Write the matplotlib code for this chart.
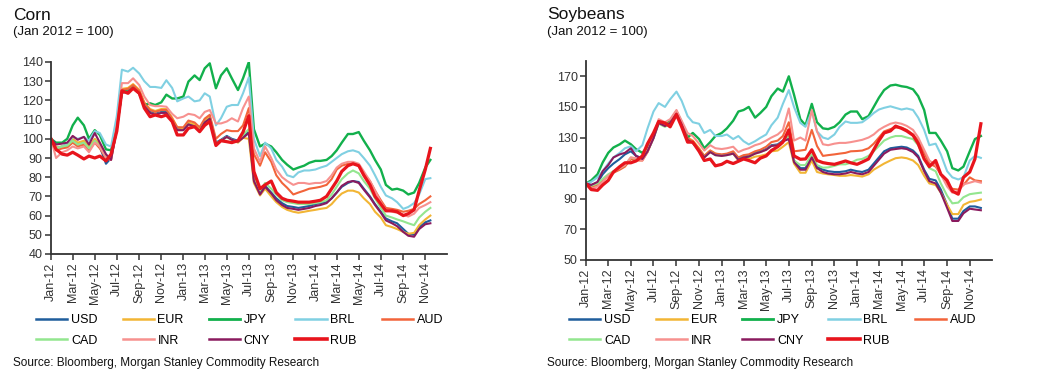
import matplotlib
matplotlib.use("Agg")
import matplotlib.pyplot as plt
import matplotlib.dates as mdates
import pandas as pd
from matplotlib.lines import Line2D

plt.rcParams["font.family"] = ["Liberation Sans", "DejaVu Sans"]

# semi-monthly points, Jan 2012 -> Dec 2014 (Jan 2012 = 100)
corn_dates = pd.date_range("2012-01-01", periods=70, freq="SMS")
soy_dates = pd.date_range("2012-01-01", periods=71, freq="SMS")

currencies = ["USD", "EUR", "JPY", "BRL", "AUD", "CAD", "INR", "CNY", "RUB"]

# ---- Corn ----
corn_usd = [100, 95, 96, 96.5, 99, 97, 98, 94.5, 98.5, 96, 87, 90, 105,
            124.5, 125, 127, 124, 117.5, 114, 113, 114, 114, 109.5, 105, 105, 108, 107, 104.5, 109, 111, 98, 99.5, 101.5, 100, 99, 101,
            104, 79, 72, 75.5, 72, 69, 66.5, 65, 64.5, 64, 64.5, 65, 66, 66.5, 67, 69, 72, 75, 77, 78, 77.5, 74, 70, 66, 62, 58.5, 57, 56, 53, 50.5, 50, 54, 56.5, 57.5]
corn_eur = [100, 95.5, 96, 97, 100, 98, 99, 96, 100, 97, 90, 90, 107,
            126, 126.5, 128.5, 125.5, 119, 115.5, 114.5, 115.5, 115.5, 111, 106, 105.5, 108.5, 107.5, 105, 109.5, 111.5, 97.5, 99, 101, 99.5, 98, 100.5,
            100, 77, 70.5, 74, 70, 67, 64.5, 63, 62, 61.5, 62, 62.5, 63, 63.5, 64, 66, 69, 71.5, 73, 73, 72, 69, 66, 62, 59, 55, 54, 53, 51.5, 50.5, 51, 55, 58, 60]
corn_jpy = [100, 98, 98, 100, 107, 111, 107, 100, 104.5, 102, 94.5, 94, 106,
            124.5, 125, 127, 124, 117.6, 118.5, 117.6, 119, 123, 121, 121, 122, 129.8, 133, 130.6, 136.7, 139.3, 126.3, 133, 136.7, 131.5, 125.4, 131.5,
            140, 105, 96, 97.5, 96, 93, 89, 86.5, 84, 85, 86, 87.5, 88.5, 88.5, 89, 91, 94, 98, 102.5, 102.5, 103.5, 99, 94, 89, 84, 76, 73.5, 74, 73, 71, 72, 77, 85, 89]
corn_brl = [100, 95, 96, 97.5, 101, 100, 101, 99, 104, 103, 97, 96, 112,
            136, 135, 137, 134, 130, 127, 127, 126.5, 130.5, 126.5, 119.5, 121, 122, 119.5, 120, 123.7, 122, 107, 110.7, 116.7, 117.6, 117.6, 123.7,
            132, 100, 91, 98, 95, 89, 85.5, 81, 80, 82.5, 83.5, 83.5, 84, 85, 86, 88, 90, 92, 93.5, 94, 93, 90, 86, 81, 75, 70.5, 69, 67, 63.5, 64.5, 66.5, 71, 79, 79.5]
corn_aud = [100, 94, 95, 95.5, 98, 96, 97, 94, 98, 95, 90, 89, 105,
            125.5, 126, 128, 125, 118.5, 115, 114, 115, 115, 110.5, 106, 106, 109.5, 108.5, 106, 110.5, 112.5, 100, 102.5, 104.5, 104, 104, 107,
            116, 92, 86, 93, 88, 81, 77, 74.5, 71, 72, 73, 74, 74.5, 75, 76, 79, 84, 86, 87, 87, 86, 82, 78, 73, 68, 64, 63.5, 63, 62, 62.5, 63.5, 66, 68, 70]
corn_cad = [100, 95, 96, 96.5, 99, 97, 98, 95, 99, 96, 90.5, 89.5, 105,
            124, 124.5, 126.5, 123.5, 117, 113.5, 112.5, 113.5, 113.5, 109, 104.5, 104.5, 107.5, 106.5, 104, 108.5, 110.5, 97.5, 99, 101, 99.5, 98.5, 102,
            105, 80, 73, 77, 74, 71, 68, 67, 66.5, 66, 66, 66, 66.5, 67, 68, 71, 75, 79, 82, 83.5, 82, 78, 74, 69, 64, 60, 59, 58, 57, 56, 55, 59, 62, 64]
corn_inr = [100, 90, 93, 94, 96, 95, 96, 93, 98, 96, 90, 89, 107,
            129, 129, 131.5, 128, 122, 117.6, 117, 117, 116.7, 113, 110.7, 111.5, 113, 112.4, 110.7, 114, 115, 108, 108, 109, 110.7, 109, 116,
            122, 95, 88, 96, 90, 84, 80, 78, 76, 77, 77, 76.5, 77, 77, 78, 81, 85, 87, 88, 88, 87, 83, 78, 73, 67, 63, 62, 61.5, 60.5, 59.5, 61, 64, 65.5, 67]
corn_cny = [100, 97, 97.5, 98, 101.5, 99.5, 101, 97, 103, 98, 92, 89, 105,
            124, 124.5, 126.5, 123.5, 117, 113.5, 112.5, 113.5, 113.5, 109, 104.5, 104.5, 107.5, 106.5, 104, 108.5, 110.5, 97.5, 99, 101, 99.5, 98.5, 100.5,
            103, 78, 71, 75, 71.5, 68, 65.5, 64, 63.5, 63, 63.5, 64, 65, 65.5, 66.5, 69, 72, 75.5, 77.5, 78, 77, 73.5, 69.5, 65.5, 61.5, 57.5, 56, 54.5, 51.5, 49.5, 49, 53, 55.5, 56]
corn_rub = [100, 94.5, 92, 91.5, 93, 91.5, 89.5, 91, 90, 91, 88.5, 92, 104,
            125, 123.7, 126.3, 123.7, 116, 111.5, 112.4, 111.5, 112.4, 109, 102, 102, 105.5, 106.3, 103.7, 107, 109, 96.5, 99, 98.5, 98, 99, 103.5,
            112, 83, 74, 76, 78, 72, 69, 68, 67.5, 67, 67, 67, 67.5, 68, 70, 74, 78, 83, 86, 87, 86, 81, 76, 70, 66, 62.5, 62.5, 62, 60, 61, 63, 73, 84, 95]

# ---- Soybeans ----
soy_usd = [100, 99, 100.5, 106, 110, 113, 116, 119, 121, 118, 116.5, 121,
           130, 140, 138, 140, 146, 139, 129, 127, 122, 117.5, 121, 119, 118.5, 119, 120, 116, 117.5, 118, 120, 121, 122.5, 125, 125.5, 128,
           130, 115, 110, 110, 118, 111, 109, 108, 107.5, 107.5, 108, 109, 108, 107.5, 109, 113, 117, 121, 123, 123.5, 124, 123.5, 121.5, 118, 109, 103, 102, 96, 86, 77, 77, 82, 85, 85, 84]
soy_eur = [100, 98, 99.5, 102, 105, 107.5, 109.5, 111.5, 116, 115.5, 115.5, 121,
           131, 141, 139, 141, 147, 140, 130, 128, 123, 118, 121.5, 119.5, 118.5, 119, 119.5, 115, 116, 116, 117.5, 118, 119, 121, 121.5, 124,
           127, 113, 107, 107, 115, 107.5, 106.5, 106, 105.5, 105, 105, 105.5, 105, 104.5, 106, 109, 111, 113, 115, 116.5, 117, 116.5, 115, 112, 105, 100, 99, 94, 86, 80, 80, 86, 88, 88.5, 89.5]
soy_jpy = [100, 102, 106, 113.7, 120, 123.5, 125.6, 128, 125.6, 122.4, 120, 124,
           132, 140, 138, 141, 147, 140, 130, 133, 129, 123, 127, 131, 133, 136, 141, 147, 148, 150, 143, 146, 150, 157, 162, 160,
           170, 158, 142, 138, 152, 140, 136, 135.5, 137, 140, 145, 147, 147, 142, 144, 150, 156, 161, 164, 164.5, 163.5, 163, 161.5, 157, 148, 133, 133, 128, 121, 110, 108.5, 111, 121, 129, 131]
soy_brl = [100, 101, 104, 108, 113, 117, 120, 123, 124.3, 121, 125, 136,
           147, 152.5, 150, 155, 160, 154, 144, 140, 139, 133, 135, 131, 131, 132, 129, 131, 127.6, 125.5, 127.6, 129.8, 132, 138, 143, 152,
           161, 150, 139.6, 137, 147, 134, 130, 129, 132, 137, 140.5, 139.6, 139.6, 140, 143, 146, 148.3, 149.4, 150.4, 149.4, 148.3, 149, 148, 143, 135, 125, 126, 119, 108, 104, 102.6, 104, 115, 118, 116.7]
soy_aud = [100, 97.5, 99, 102, 105, 107, 109, 111, 116, 115, 115, 120.5,
           130, 140, 138, 140, 146.5, 139.5, 129.5, 127.5, 122.5, 118, 121.5, 119.5, 119, 119.5, 121, 117, 118.5, 119, 121, 122, 124, 127, 128, 131,
           140, 121, 121.5, 122, 135, 124.5, 118, 118.5, 119, 119.5, 120, 121, 121.2, 121.5, 123, 126, 130, 134, 135.5, 136.5, 136.5, 135, 132, 128, 120, 113, 111, 106, 99.5, 96.5, 96, 99, 104, 102, 101.5]
soy_cad = [100, 98.5, 100, 103, 106, 108, 110, 112, 117, 116, 116, 121,
           129.5, 139, 137, 139, 145, 138, 128.5, 126.5, 121.5, 117, 120.5, 118.5, 118, 118.5, 119.5, 115.5, 117, 117.5, 119.5, 120.5, 122, 124.5, 125, 127.5,
           131, 115, 112, 112, 119, 112, 110.3, 110.5, 111.5, 112.5, 112.5, 113.5, 115.5, 116, 118, 121, 124.5, 128, 130, 131, 131, 130, 129, 125, 117, 110, 108, 100, 92, 87, 87.5, 91, 93, 93.5, 94]
soy_inr = [100, 96.5, 98, 101, 105, 107.5, 110, 112, 117, 116.5, 115, 121,
           131, 142, 140, 142, 148, 141, 133, 131, 126, 121.5, 125, 123, 122.5, 123, 124, 120.5, 122, 123, 125, 126, 128, 130, 132, 135,
           149, 128, 130, 128, 148, 134, 125.6, 125, 126, 126.5, 126.5, 127, 127.8, 128.5, 130, 132, 135, 137, 139, 139.8, 139, 137.6, 135, 130, 122, 115, 112, 106, 98, 94, 95, 99.4, 100.5, 101.5, 100.5]
soy_cny = [100, 99, 101, 108, 112, 117, 119, 120, 123, 118, 116, 121,
           129.5, 139.5, 137.5, 139.5, 145.5, 138.5, 128.5, 126.5, 121.5, 117, 120.5, 118.5, 118, 118.5, 119.5, 115.5, 117, 117.5, 119.5, 120.5, 122, 124.5, 125, 127.5,
           129, 114, 109, 109, 117, 110, 107.5, 106.5, 106, 106, 106.5, 107.5, 106.5, 106, 107.5, 111.5, 115.5, 119.5, 122, 122.5, 123, 122.5, 120.5, 117, 108, 101.5, 100, 94, 84, 75.5, 75.5, 80.5, 83.5, 83, 82.5]
soy_rub = [100, 96, 95.5, 99, 102, 107.5, 111, 113.5, 113.5, 114.7, 118, 126,
           133, 140.5, 139.5, 137, 145, 137, 127, 127, 121, 115, 116, 111.5, 112.5, 114.5, 113, 114.5, 116, 115, 113.5, 116.5, 118, 121.5, 124, 127,
           135, 118, 115.8, 116, 122, 115, 113.6, 113, 112.5, 113.5, 114.7, 113.5, 112.5, 114, 116, 122, 128, 133, 134.3, 137.5, 136, 134.3, 131.5, 126, 116, 111, 115, 106, 102, 95, 93, 104, 107.5, 116, 139]

corn = dict(zip(currencies, [corn_usd, corn_eur, corn_jpy, corn_brl, corn_aud,
                             corn_cad, corn_inr, corn_cny, corn_rub]))
soy = dict(zip(currencies, [soy_usd, soy_eur, soy_jpy, soy_brl, soy_aud,
                            soy_cad, soy_inr, soy_cny, soy_rub]))

colors = {"USD": "#1f5d9c", "EUR": "#f2b534", "JPY": "#12b04c", "BRL": "#80d0e2",
          "AUD": "#f2643a", "CAD": "#93e68f", "INR": "#f7918f", "CNY": "#8a1a5e",
          "RUB": "#e8141c"}
widths = {"USD": 1.5, "EUR": 1.5, "JPY": 1.7, "BRL": 1.5, "AUD": 1.5,
          "CAD": 1.5, "INR": 1.5, "CNY": 1.5, "RUB": 2.3}

fig = plt.figure(figsize=(10.5, 3.73), dpi=100)
W, H = 1050, 373


def draw(ax, dates, data, ylim, yticks):
    for c in currencies:
        ax.plot(dates, data[c], color=colors[c], lw=widths[c],
                solid_joinstyle="round")
    ax.set_ylim(*ylim)
    ax.set_yticks(yticks)
    ax.set_xlim(pd.Timestamp("2012-01-01"), pd.Timestamp("2014-12-31"))
    ax.xaxis.set_major_locator(mdates.MonthLocator(bymonth=[1, 3, 5, 7, 9, 11]))
    ax.xaxis.set_major_formatter(mdates.DateFormatter("%b-%y"))
    for s in ["top", "right"]:
        ax.spines[s].set_visible(False)
    for s in ["left", "bottom"]:
        ax.spines[s].set_color("#333333")
        ax.spines[s].set_linewidth(1.3)
    ax.tick_params(axis="both", direction="out", length=4, width=1.1,
                   color="#333333", labelcolor="#333333", labelsize=9, pad=2)
    ax.tick_params(axis="x", labelrotation=90)


ax1 = fig.add_axes([51 / W, 1 - 254 / H, 396 / W, 192 / H])
draw(ax1, corn_dates, corn, (40, 140), range(40, 141, 10))
ax2 = fig.add_axes([586 / W, 1 - 260 / H, 406 / W, 199 / H])
draw(ax2, soy_dates, soy, (50, 180), range(50, 171, 20))

# legend laid out row-wise in 5 columns
order = ["USD", "CAD", "EUR", "INR", "JPY", "CNY", "BRL", "RUB", "AUD"]
handles = [Line2D([], [], color=colors[c], lw=widths[c] + 0.3) for c in order]
for ax, x0 in [(ax1, 36), (ax2, 569)]:
    ax.legend(handles, order, ncol=5, loc="upper left",
              bbox_to_anchor=(x0 / W, 1 - 314 / H), bbox_transform=fig.transFigure,
              frameon=False, fontsize=9, handlelength=2.5, handletextpad=0.3,
              columnspacing=2.0, borderpad=0, borderaxespad=0, labelspacing=0.7)

for x0, name in [(13, "Corn"), (547, "Soybeans")]:
    fig.text(x0 / W, 1 - 15 / H, name, fontsize=12.5, va="center", color="#111111")
    fig.text(x0 / W, 1 - 32 / H, "(Jan 2012 = 100)", fontsize=9.5, va="center",
             color="#111111")
    fig.text(x0 / W, 1 - 363 / H, "Source: Bloomberg, Morgan Stanley Commodity Research",
             fontsize=8.5, va="center", color="#111111")

fig.savefig("out.png", dpi=100)
